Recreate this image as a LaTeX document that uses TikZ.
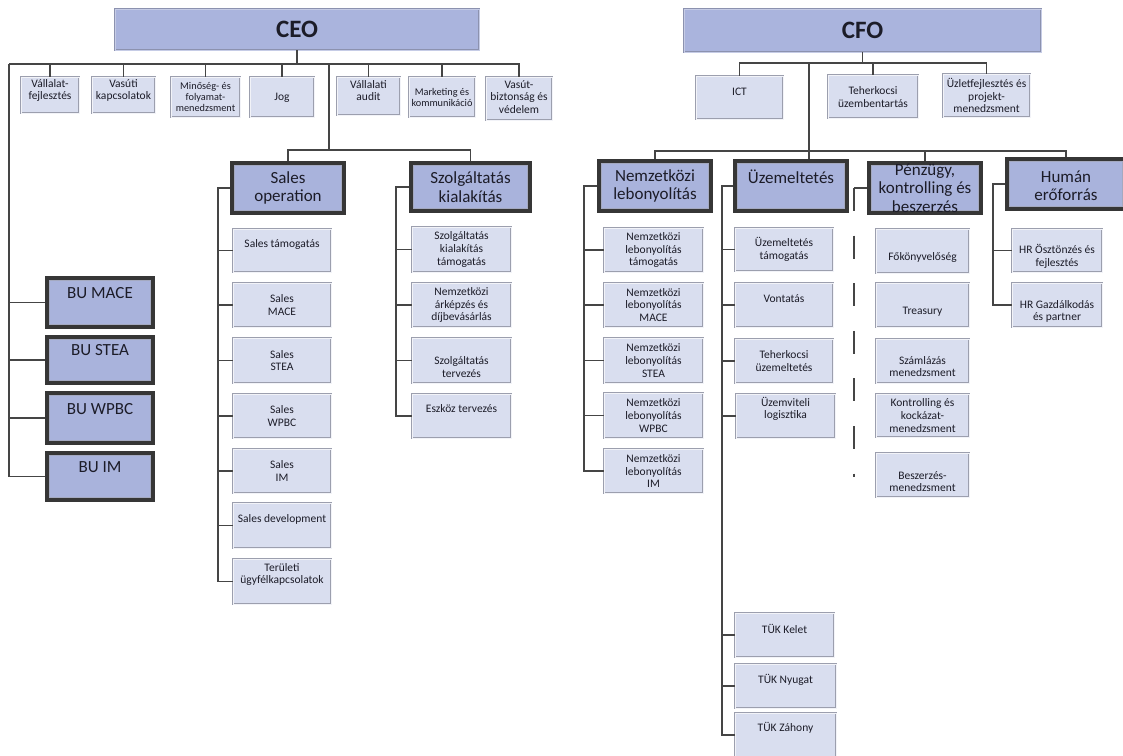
\documentclass[tikz,border=0pt]{standalone}
\usepackage{fontspec}
\setmainfont{Carlito}
\usetikzlibrary{shadows}
\definecolor{topfill}{HTML}{AAB4DD}
\definecolor{topdraw}{HTML}{8C92AF}
\definecolor{topinner}{HTML}{C6CCE6}
\definecolor{headfill}{HTML}{A9B3DC}
\definecolor{headline}{HTML}{363636}
\definecolor{headinner}{HTML}{A4A9C0}
\definecolor{smallfill}{HTML}{D9DEEF}
\definecolor{smalldraw}{HTML}{9C9FAE}
\definecolor{smallinner}{HTML}{F2F3F8}
\definecolor{linec}{HTML}{454545}
\definecolor{txtc}{HTML}{1C1C28}
\tikzset{
  shad/.style={drop shadow={shadow xshift=1.4pt,shadow yshift=-1.4pt,opacity=.4,fill=black!55}},
  tb/.style={rectangle,inner sep=0pt,fill=topfill,draw=topdraw,double=topinner,double distance=.9pt,line width=.9pt,shad},
  tbtxt/.style={inner sep=0pt,text=txtc,font=\fontsize{25}{28}\selectfont\bfseries},
  hb/.style={rectangle,inner sep=0pt,fill=headfill,draw=headline,line width=3.2pt,shad,
    path picture={\draw[headinner,line width=.8pt] ([shift={(2.4pt,-2.4pt)}]path picture bounding box.north west) rectangle ([shift={(-2.4pt,2.4pt)}]path picture bounding box.south east);}},
  hbtxt/.style={inner sep=0pt,text=txtc,align=center,font=\fontsize{17}{18.5}\selectfont},
  sb/.style={rectangle,inner sep=0pt,fill=smallfill,draw=smalldraw,double=smallinner,double distance=1pt,line width=.8pt,shad},
  sbtxt/.style={inner sep=0pt,text=txtc,align=center,font=\fontsize{11.5}{12.6}\selectfont},
  sbs/.style={sb},
  sbstxt/.style={sbtxt,font=\fontsize{10.3}{11}\selectfont},
  conn/.style={draw=linec,line width=1.6pt},
}
% #1 style, #2 name, #3 x1, #4 y1, #5 x2, #6 y2, #7 text, #8 text offset
\newcommand\mybox[8]{%
  \node[#1,minimum width={#5-#3},minimum height={#6-#4}] (#2) at ({(#3+#5)/2},{(#4+#6)/2}) {};
  \node[#1txt] (#2t) at ({(#3+#5)/2},{(#4+#6)/2+#8}) {#7};}
\begin{document}
\begin{tikzpicture}[x=1pt,y=-1pt]
\fill[white] (0,0) rectangle (1123,755);
\useasboundingbox (0,0) rectangle (1123,755);

% ---------- CEO side ----------
\mybox{tb}{ceo}{115}{9}{479}{50}{CEO}{0}
\mybox{sb}{v1}{21}{77}{79}{113}{Vállalat-\\fejlesztés}{-4.5}
\mybox{sb}{v2}{92}{77}{155}{113}{Vasúti\\kapcsolatok}{-4.5}
\mybox{sbs}{v3}{171}{77}{240}{117}{Minőség- és\\folyamat-\\menedzsment}{0}
\mybox{sb}{v4}{250}{77}{314}{117}{Jog}{1}
\mybox{sb}{v5}{337}{77}{400}{115}{Vállalati\\audit}{-5.5}
\mybox{sbs}{v6}{409}{77}{475}{117}{Marketing és\\kommunikáció}{0}
\mybox{sb}{v7}{486}{77}{552}{120}{Vasút-\\biztonság és\\védelem}{-1.5}

\mybox{hb}{bu1}{47}{278}{153}{327}{BU MACE}{-9.5}
\mybox{hb}{bu2}{47}{337}{153}{383}{BU STEA}{-10}
\mybox{hb}{bu3}{47}{393}{153}{443}{BU WPBC}{-9}
\mybox{hb}{bu4}{47}{453}{153}{500}{BU IM}{-9.5}

\mybox{hb}{so}{232}{163}{344}{213}{Sales\\operation}{0}
\mybox{hb}{sk}{411}{163}{530}{211}{Szolgáltatás\\kialakítás}{0}

\mybox{sb}{s1}{233}{229}{331}{272}{Sales támogatás}{-6.5}
\mybox{sb}{s2}{233}{283}{331}{327}{Sales\\MACE}{0}
\mybox{sb}{s3}{233}{338}{331}{383}{Sales\\STEA}{0}
\mybox{sb}{s4}{233}{394}{331}{438}{Sales\\WPBC}{0}
\mybox{sb}{s5}{233}{449}{331}{493}{Sales\\IM}{0}
\mybox{sb}{s6}{233}{503}{331}{548}{Sales development}{-6.5}
\mybox{sb}{s7}{233}{559}{331}{604}{Területi\\ügyfélkapcsolatok}{-7}

\mybox{sb}{k1}{412}{227}{511}{272}{Szolgáltatás\\kialakítás\\támogatás}{0}
\mybox{sb}{k2}{412}{283}{511}{327}{Nemzetközi\\árképzés és\\díjbevásárlás}{0}
\mybox{sb}{k3}{412}{338}{511}{383}{Szolgáltatás\\tervezés}{6.5}
\mybox{sb}{k4}{412}{394}{511}{438}{Eszköz tervezés}{-7}

% ---------- CFO side ----------
\mybox{tb}{cfo}{684}{9}{1041}{52}{CFO}{0}
\mybox{sb}{c1}{696}{76}{783}{119}{ICT}{-5.5}
\mybox{sb}{c2}{828}{75}{918}{118}{Teherkocsi\\üzembentartás}{0.5}
\mybox{sb}{c3}{943}{74}{1030}{117}{Üzletfejlesztés és\\projekt-\\menedzsment}{0}

\mybox{hb}{nl}{599}{161}{711}{211}{Nemzetközi\\lebonyolítás}{0}
\mybox{hb}{ue}{735}{161}{847}{211}{Üzemeltetés}{-9}
\mybox{hb}{pk}{869}{163}{981}{213}{Pénzügy,\\kontrolling és\\beszerzés}{0}
\mybox{hb}{hu}{1007}{159}{1125}{209}{Humán\\erőforrás}{2}

\mybox{sb}{n1}{604}{228}{703}{272}{Nemzetközi\\lebonyolítás\\támogatás}{0}
\mybox{sb}{n2}{604}{283}{703}{327}{Nemzetközi\\lebonyolítás\\MACE}{0}
\mybox{sb}{n3}{604}{338}{703}{383}{Nemzetközi\\lebonyolítás\\STEA}{0}
\mybox{sb}{n4}{604}{393}{703}{438}{Nemzetközi\\lebonyolítás\\WPBC}{0}
\mybox{sb}{n5}{604}{449}{703}{493}{Nemzetközi\\lebonyolítás\\IM}{0}

\mybox{sb}{u1}{735}{228}{833}{271}{Üzemeltetés\\támogatás}{0}
\mybox{sb}{u2}{735}{283}{833}{327}{Vontatás}{-6}
\mybox{sb}{u3}{735}{339}{833}{383}{Teherkocsi\\üzemeltetés}{0}
\mybox{sb}{u4}{736}{394}{835}{438}{Üzemviteli\\logisztika}{-7}
\mybox{sb}{t1}{735}{613}{834}{657}{TÜK Kelet}{-6}
\mybox{sb}{t2}{735}{664}{836}{708}{TÜK Nyugat}{-6}
\mybox{sb}{t3}{735}{713}{836}{757}{TÜK Záhony}{-7}

\mybox{sb}{p1}{876}{229}{969}{273}{Főkönyvelőség}{6}
\mybox{sb}{p2}{876}{283}{969}{327}{Treasury}{7}
\mybox{sb}{p3}{876}{339}{969}{383}{Számlázás\\menedzsment}{5.5}
\mybox{sb}{p4}{876}{394}{969}{437}{Kontrolling és\\kockázat-\\menedzsment}{0}
\mybox{sb}{p5}{876}{453}{969}{497}{Beszerzés-\\menedzsment}{6.5}

\mybox{sb}{h1}{1012}{229}{1102}{272}{HR Ösztönzés és\\fejlesztés}{6}
\mybox{sb}{h2}{1012}{283}{1102}{327}{HR Gazdálkodás\\és partner}{6.5}

% ---------- coordinates of the buses ----------
\coordinate (ceobus) at (9,64);
\coordinate (ceomid) at (329,150);
\coordinate (sv) at (218,0);
\coordinate (kv) at (396,0);
\coordinate (cfobus) at (740,63);
\coordinate (cfomid) at (809,151);
\coordinate (nv) at (584,0);
\coordinate (uv) at (722,0);
\coordinate (pv) at (854,0);
\coordinate (pvend) at (854,477);
\coordinate (hv) at (993,0);

% ---------- CEO connectors ----------
\draw[conn] (ceo.south) -- (ceo.south |- ceobus);
\draw[conn] (ceobus) -- (ceobus -| v7.north) -- (v7.north);
\foreach \n in {v1,v2,v3,v4,v5,v6} \draw[conn] (\n.north) -- (\n.north |- ceobus);
\draw[conn] (ceobus) |- (bu4.west);
\foreach \n in {bu1,bu2,bu3} \draw[conn] (\n.west) -- (\n.west -| ceobus);
\draw[conn] (ceobus -| ceomid) -- (ceomid);
\draw[conn] (so.north) -- (so.north |- ceomid) -- (sk.north |- ceomid) -- (sk.north);
\draw[conn] (so.west) -- (so.west -| sv) |- (s7.west);
\foreach \n in {s1,s2,s3,s4,s5,s6} \draw[conn] (\n.west) -- (\n.west -| sv);
\draw[conn] (sk.west) -- (sk.west -| kv) |- (k4.west);
\foreach \n in {k1,k2,k3} \draw[conn] (\n.west) -- (\n.west -| kv);

% ---------- CFO connectors ----------
\draw[conn] (cfo.south) -- (cfo.south |- cfobus);
\draw[conn] (c1.north) -- (c1.north |- cfobus) -- (c3.north |- cfobus) -- (c3.north);
\draw[conn] (c2.north) -- (c2.north |- cfobus);
\draw[conn] (cfobus -| cfomid) -- (ue.north -| cfomid);
\draw[conn] (nl.north) -- (nl.north |- cfomid) -- (hu.north |- cfomid) -- (hu.north);
\draw[conn] (pk.north) -- (pk.north |- cfomid);
\draw[conn] (nl.west) -- (nl.west -| nv) |- (n5.west);
\foreach \n in {n1,n2,n3,n4} \draw[conn] (\n.west) -- (\n.west -| nv);
\draw[conn] (ue.west) -- (ue.west -| uv) |- (t3.west);
\foreach \n in {u1,u2,u3,u4,t1,t2} \draw[conn] (\n.west) -- (\n.west -| uv);
\draw[conn] (pk.west) -- (pk.west -| pv);
\draw[conn,dash pattern=on 23pt off 24.6pt] (pk.west -| pv) -- (pvend);
\draw[conn] (hu.west) -- (hu.west -| hv) |- (h2.west);
\draw[conn] (h1.west) -- (h1.west -| hv);
\end{tikzpicture}
\end{document}
